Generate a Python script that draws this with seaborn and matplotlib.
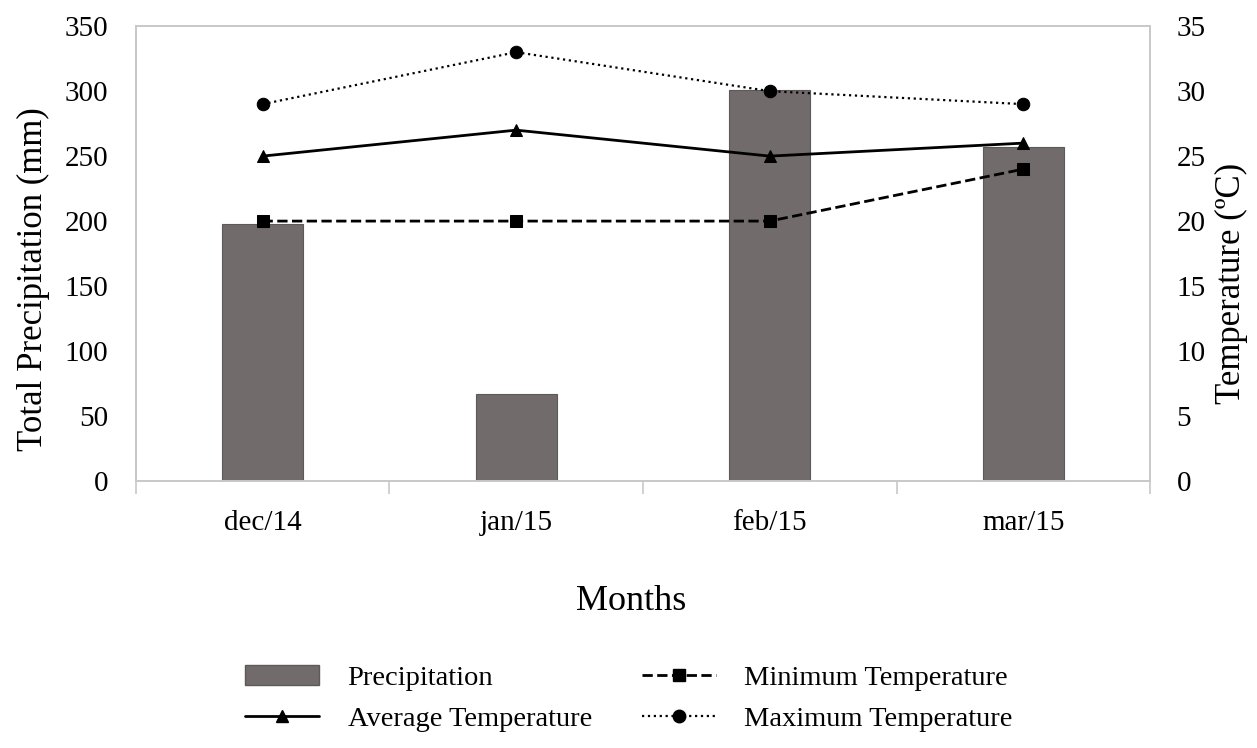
import seaborn as sns
import matplotlib.pyplot as plt
import pandas as pd
from matplotlib.lines import Line2D
from matplotlib.patches import Patch

months = ["dec/14", "jan/15", "feb/15", "mar/15"]
precipitation = [198, 67, 301, 257]
temp_max = [29, 33, 30, 29]
temp_avg = [25, 27, 25, 26]
temp_min = [20, 20, 20, 24]

bar_color = "#716b6b"
bar_edge = "#5e5959"
frame_color = "#c8c8c8"

sns.set_style("white")
plt.rcParams["font.family"] = ["Liberation Serif", "DejaVu Serif"]
plt.rcParams["text.color"] = "black"
plt.rcParams["axes.labelcolor"] = "black"
plt.rcParams["xtick.color"] = "black"
plt.rcParams["ytick.color"] = "black"

fig = plt.figure(figsize=(12.57, 7.48), dpi=100)
ax = fig.add_axes([0.108, 0.357, 0.807, 0.608])

df = pd.DataFrame({"month": months, "precipitation": precipitation})
sns.barplot(data=df, x="month", y="precipitation", color=bar_color,
            saturation=1, width=0.32, ax=ax, edgecolor=bar_edge, linewidth=0.8)
ax.set_xlim(-0.5, 3.5)
ax.set_ylim(0, 350)
ax.set_yticks(range(0, 351, 50))

ax2 = ax.twinx()
line_specs = [
    (temp_max, "o", ":", 1.6, 9),
    (temp_avg, "^", "-", 2.0, 8),
    (temp_min, "s", "--", 2.0, 8),
]
for values, marker, ls, lw, ms in line_specs:
    sns.lineplot(x=range(len(months)), y=values, ax=ax2, color="black",
                 marker=marker, linestyle=ls, linewidth=lw, markersize=ms,
                 markeredgecolor="black")
ax2.set_ylim(0, 35)
ax2.set_yticks(range(0, 36, 5))
ax2.set_xlim(-0.5, 3.5)

for a in (ax, ax2):
    for s in a.spines.values():
        s.set_color(frame_color)
        s.set_linewidth(1.2)
ax.tick_params(axis="y", length=0, labelsize=21, pad=20)
ax2.tick_params(axis="y", length=0, labelsize=21, pad=19)

ax.set_xticks(range(len(months)))
ax.set_xticklabels(months)
ax.set_xticks([-0.5, 0.5, 1.5, 2.5, 3.5], minor=True)
ax.tick_params(axis="x", which="major", length=0, labelsize=21, pad=21)
ax.tick_params(axis="x", which="minor", length=9, color=frame_color, width=1.2, bottom=True)

ax.set_xlabel("Months", fontsize=26, va="top")
ax.xaxis.set_label_coords(0.488, -0.228)
ax.set_ylabel("Total Precipitation (mm)", fontsize=25)
ax.yaxis.set_label_coords(-0.085, 0.444)
ax2.set_ylabel("Temperature (ºC)", fontsize=25)
ax2.yaxis.set_label_coords(1.064, 0.435)

handles = [
    Patch(facecolor=bar_color, edgecolor=bar_edge, label="Precipitation"),
    Line2D([], [], color="black", marker="^", linestyle="-", linewidth=2, markersize=8,
           label="Average Temperature"),
    Line2D([], [], color="black", marker="s", linestyle="--", linewidth=2, markersize=8,
           label="Minimum Temperature"),
    Line2D([], [], color="black", marker="o", linestyle=":", linewidth=1.6, markersize=9,
           label="Maximum Temperature"),
]
fig.legend(handles=handles, loc="lower left", bbox_to_anchor=(245 / 1257, 0.022), ncol=2,
           frameon=False, fontsize=20.5, handlelength=2.6, handletextpad=1.0,
           columnspacing=1.75, labelspacing=0.5, borderpad=0, borderaxespad=0)

fig.savefig("out.png", dpi=100)
